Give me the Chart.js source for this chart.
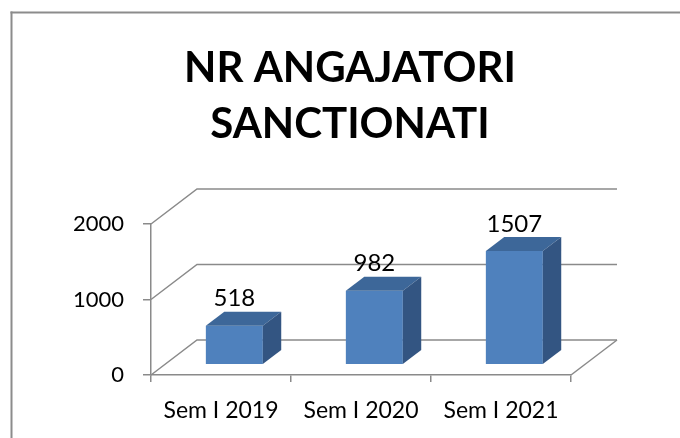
<!DOCTYPE html>
<html>
<head>
<meta charset="utf-8">
<script src="https://cdn.jsdelivr.net/npm/chart.js@4/dist/chart.umd.min.js"></script>
<style>
html,body{margin:0;padding:0;background:#fff;}
#wrap{width:680px;height:438px;position:relative;}
</style>
</head>
<body>
<div id="wrap"><canvas id="c" width="680" height="438"></canvas></div>
<script>
const categories = ['Sem I 2019', 'Sem I 2020', 'Sem I 2021'];
const values = [518, 982, 1507];
const yTicks = [0, 1000, 2000];
const titleLines = ['NR ANGAJATORI', 'SANCTIONATI'];

const FONT = 'Lato, "Open Sans", sans-serif';
const GRID = '#8a8a8a';
const WALL = {dx: 46, dy: -35};
const BAR_SHIFT = 0.29;
const BAR_DEPTH = 0.4;

const frame = {
  id: 'frame',
  beforeDraw(chart) {
    const ctx = chart.ctx;
    ctx.save();
    ctx.fillStyle = '#8c8c8c';
    ctx.fillRect(10.5, 11.5, 680, 2);
    ctx.fillRect(10.5, 11.5, 2, 438);
    ctx.restore();
  }
};

const centerTitle = {
  id: 'centerTitle',
  afterLayout(chart) {
    const tb = chart.titleBlock;
    if (tb) {
      tb.left = 129;
      tb.width = tb.right - tb.left;
    }
  }
};

const threeD = {
  id: 'threeD',
  beforeDatasetsDraw(chart) {
    const ctx = chart.ctx, ca = chart.chartArea, y = chart.scales.y;
    ctx.save();
    ctx.strokeStyle = GRID;
    ctx.lineWidth = 1.5;
    yTicks.forEach(v => {
      const py = y.getPixelForValue(v);
      ctx.beginPath();
      ctx.moveTo(ca.left, py);
      ctx.lineTo(ca.left + WALL.dx, py + WALL.dy);
      ctx.lineTo(ca.right + WALL.dx, py + WALL.dy);
      ctx.stroke();
    });
    const p0 = y.getPixelForValue(0);
    ctx.beginPath();
    ctx.moveTo(ca.right, p0);
    ctx.lineTo(ca.right + WALL.dx, p0 + WALL.dy);
    ctx.stroke();
    ctx.restore();
    ctx.save();
    ctx.translate(WALL.dx * BAR_SHIFT, WALL.dy * BAR_SHIFT);
  },
  afterDatasetsDraw(chart) {
    const ctx = chart.ctx;
    ctx.restore();
    const sx = WALL.dx * BAR_SHIFT, sy = WALL.dy * BAR_SHIFT;
    const bdx = WALL.dx * BAR_DEPTH, bdy = WALL.dy * BAR_DEPTH;
    const meta = chart.getDatasetMeta(0);
    ctx.save();
    meta.data.forEach((bar, i) => {
      const p = bar.getProps(['x', 'y', 'base', 'width'], true);
      const l = p.x - p.width / 2 + sx, r = p.x + p.width / 2 + sx;
      const t = p.y + sy, b = p.base + sy;
      ctx.fillStyle = '#3d6799';
      ctx.beginPath();
      ctx.moveTo(l, t); ctx.lineTo(r, t); ctx.lineTo(r + bdx, t + bdy); ctx.lineTo(l + bdx, t + bdy);
      ctx.closePath(); ctx.fill();
      ctx.fillStyle = '#335582';
      ctx.beginPath();
      ctx.moveTo(r, t); ctx.lineTo(r + bdx, t + bdy); ctx.lineTo(r + bdx, b + bdy); ctx.lineTo(r, b);
      ctx.closePath(); ctx.fill();
      ctx.fillStyle = '#000';
      ctx.font = '24px ' + FONT;
      ctx.textAlign = 'center';
      ctx.textBaseline = 'middle';
      ctx.fillText(String(values[i]), p.x + sx, t - 27);
    });
    ctx.restore();
  }
};

new Chart(document.getElementById('c'), {
  type: 'bar',
  data: {
    labels: categories,
    datasets: [{
      data: values,
      backgroundColor: '#4f81bd',
      borderWidth: 0,
      barPercentage: 0.407,
      categoryPercentage: 1,
      clip: false
    }]
  },
  options: {
    responsive: false,
    devicePixelRatio: 1,
    animation: false,
    layout: {padding: {left: 0, right: 109, top: 0, bottom: 0}},
    plugins: {
      legend: {display: false},
      tooltip: {enabled: false},
      title: {
        display: true,
        text: titleLines,
        color: '#000',
        font: {family: FONT, size: 42, weight: 'bold', lineHeight: '56px'},
        padding: {top: 40, bottom: 72}
      }
    },
    scales: {
      x: {
        offset: true,
        grid: {offset: true, drawOnChartArea: false, drawTicks: true, tickLength: 7, color: GRID, lineWidth: 1.5},
        border: {display: true, color: GRID, width: 1.5},
        ticks: {color: '#000', font: {family: FONT, size: 23}, padding: 15, maxRotation: 0},
        afterFit(s) { s.height = 63; }
      },
      y: {
        min: 0, max: 2000,
        afterBuildTicks(s) { s.ticks = yTicks.map(v => ({value: v})); },
        grid: {drawOnChartArea: false, drawTicks: true, tickLength: 8, color: GRID, lineWidth: 1.5},
        border: {display: true, color: GRID, width: 1.5},
        ticks: {color: '#000', font: {family: FONT, size: 22}, padding: 19, callback: v => String(v)},
        afterFit(s) { s.width = 151; }
      }
    }
  },
  plugins: [frame, centerTitle, threeD]
});
</script>
</body>
</html>
